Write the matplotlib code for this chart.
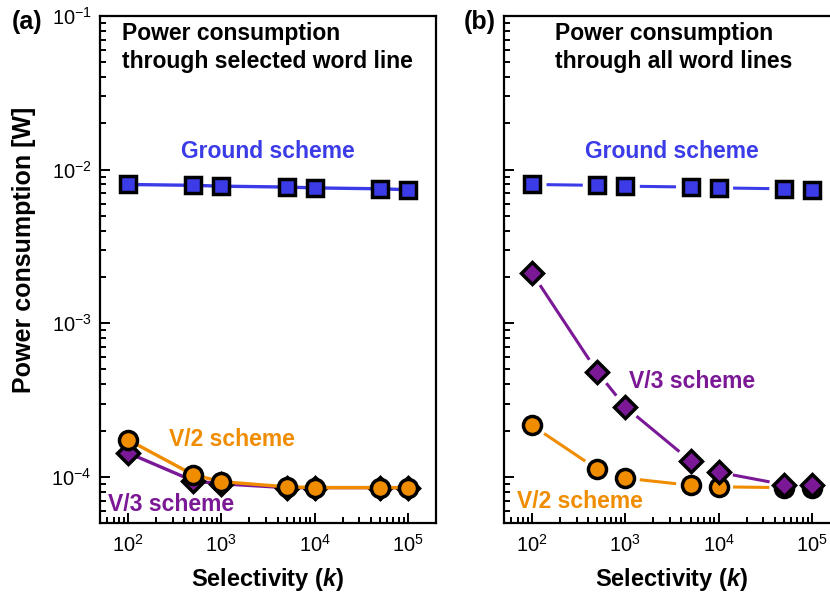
import numpy as np
import matplotlib
matplotlib.use('Agg')
import matplotlib.pyplot as plt
from matplotlib.ticker import LogLocator, LogFormatterMathtext, NullFormatter

plt.rcParams['font.family'] = ['Liberation Sans', 'DejaVu Sans']
plt.rcParams['mathtext.fontset'] = 'custom'
plt.rcParams['mathtext.rm'] = 'Liberation Sans'
plt.rcParams['mathtext.it'] = 'Liberation Sans:italic'
plt.rcParams['mathtext.bf'] = 'Liberation Sans:bold'
plt.rcParams['mathtext.bfit'] = 'Liberation Sans:bold:italic'

# selectivity k
k = [1e2, 5e2, 1e3, 5e3, 1e4, 5e4, 1e5]

# (a) power through selected word line [W]
ground_a = [8.0e-3, 7.9e-3, 7.8e-3, 7.7e-3, 7.6e-3, 7.5e-3, 7.4e-3]
v2_a = [1.74e-4, 1.03e-4, 9.3e-5, 8.6e-5, 8.5e-5, 8.5e-5, 8.5e-5]
v3_a = [1.43e-4, 9.4e-5, 9.0e-5, 8.5e-5, 8.5e-5, 8.5e-5, 8.5e-5]

# (b) power through all word lines [W]
ground_b = [8.0e-3, 7.9e-3, 7.8e-3, 7.7e-3, 7.6e-3, 7.5e-3, 7.4e-3]
v2_b = [2.16e-4, 1.12e-4, 9.8e-5, 8.8e-5, 8.6e-5, 8.5e-5, 8.5e-5]
v3_b = [2.12e-3, 4.82e-4, 2.85e-4, 1.27e-4, 1.07e-4, 8.9e-5, 8.8e-5]

BLUE = '#3b3be8'
PURPLE = '#7a1896'
ORANGE = '#f08c00'

fig = plt.figure(figsize=(8.3, 6.02), dpi=100)
ax_a = fig.add_axes([0.1205, 0.1312, 0.4048, 0.8422])
ax_b = fig.add_axes([0.6072, 0.1312, 0.4048, 0.8422])


def style_axis(ax, show_ylabels):
    ax.set_xscale('log')
    ax.set_yscale('log')
    ax.set_xlim(50, 2e5)
    ax.set_ylim(5e-5, 1e-1)
    for s in ax.spines.values():
        s.set_linewidth(1.6)
    ax.xaxis.set_major_locator(LogLocator(base=10, numticks=10))
    ax.xaxis.set_minor_locator(LogLocator(base=10, subs=np.arange(2, 10), numticks=10))
    ax.yaxis.set_major_locator(LogLocator(base=10, numticks=10))
    ax.yaxis.set_minor_locator(LogLocator(base=10, subs=np.arange(2, 10), numticks=10))
    ax.xaxis.set_major_formatter(LogFormatterMathtext())
    ax.xaxis.set_minor_formatter(NullFormatter())
    ax.yaxis.set_minor_formatter(NullFormatter())
    if show_ylabels:
        ax.yaxis.set_major_formatter(LogFormatterMathtext())
    else:
        ax.yaxis.set_major_formatter(NullFormatter())
    ax.tick_params(which='both', direction='in', top=False, right=False,
                   width=1.4, labelsize=14.5)
    ax.tick_params(which='major', length=7)
    ax.tick_params(which='minor', length=4)
    ax.tick_params(axis='x', which='major', pad=8)
    ax.tick_params(axis='y', which='major', pad=6)
    ax.set_xlabel(r'Selectivity ($\mathbfit{k}$)', fontsize=17, fontweight='bold', labelpad=7)


def gapped_line(ax, x, y, gap, **kw):
    # draw segments between points, leaving a gap around each marker
    pts = ax.transData.transform(np.column_stack([x, y]))
    inv = ax.transData.inverted()
    for p0, p1 in zip(pts[:-1], pts[1:]):
        d = p1 - p0
        L = np.hypot(*d)
        if L <= 2 * gap:
            continue
        u = d / L
        seg = inv.transform(np.array([p0 + u * gap, p1 - u * gap]))
        ax.plot(seg[:, 0], seg[:, 1], **kw)


style_axis(ax_a, True)
style_axis(ax_b, False)

mk = dict(markeredgecolor='black', markeredgewidth=2.5, linestyle='none')

# panel (a)
ax_a.plot(k, ground_a, color=BLUE, lw=2.4, zorder=2)
ax_a.plot(k, ground_a, marker='s', markersize=11.5, markerfacecolor=BLUE, zorder=3, **mk)
ax_a.plot(k, v3_a, color=PURPLE, lw=2.4, zorder=2)
ax_a.plot(k, v3_a, marker='D', markersize=11.5, markerfacecolor=PURPLE, zorder=3, **mk)
ax_a.plot(k, v2_a, color=ORANGE, lw=2.4, zorder=4)
ax_a.plot(k, v2_a, marker='o', markersize=13, markerfacecolor=ORANGE, zorder=5, **mk)

# panel (b) with gaps around markers
gapped_line(ax_b, k, ground_b, 16, color=BLUE, lw=2.2, zorder=2)
ax_b.plot(k, ground_b, marker='s', markersize=11.5, markerfacecolor=BLUE, zorder=3, **mk)
gapped_line(ax_b, k, v2_b, 16, color=ORANGE, lw=2.2, zorder=2)
ax_b.plot(k, v2_b, marker='o', markersize=13, markerfacecolor=ORANGE, zorder=3, **mk)
gapped_line(ax_b, k, v3_b, 16, color=PURPLE, lw=2.2, zorder=4)
ax_b.plot(k, v3_b, marker='D', markersize=11.5, markerfacecolor=PURPLE, zorder=5, **mk)

tkw = dict(fontsize=16.5, fontweight='bold')
ax_a.text(0.065, 0.988, 'Power consumption\nthrough selected word line', transform=ax_a.transAxes,
          ha='left', va='top', linespacing=1.3, **tkw)
ax_b.text(0.152, 0.988, 'Power consumption\nthrough all word lines', transform=ax_b.transAxes,
          ha='left', va='top', linespacing=1.3, **tkw)

ax_a.text(0.5, 0.732, 'Ground scheme', color=BLUE, transform=ax_a.transAxes, ha='center', va='center', **tkw)
ax_a.text(0.393, 0.164, 'V/2 scheme', color=ORANGE, transform=ax_a.transAxes, ha='center', va='center', **tkw)
ax_a.text(0.212, 0.0375, 'V/3 scheme', color=PURPLE, transform=ax_a.transAxes, ha='center', va='center', **tkw)

ax_b.text(0.5, 0.732, 'Ground scheme', color=BLUE, transform=ax_b.transAxes, ha='center', va='center', **tkw)
ax_b.text(0.56, 0.28, 'V/3 scheme', color=PURPLE, transform=ax_b.transAxes, ha='center', va='center', **tkw)
ax_b.text(0.226, 0.043, 'V/2 scheme', color=ORANGE, transform=ax_b.transAxes, ha='center', va='center', **tkw)

fig.text(27 / 830, 1 - 22 / 602, '(a)', fontsize=18, fontweight='bold', ha='center', va='center')
fig.text(480 / 830, 1 - 22 / 602, '(b)', fontsize=18, fontweight='bold', ha='center', va='center')
fig.text(24 / 830, 1 - 250 / 602, 'Power consumption [W]', fontsize=18, fontweight='bold',
         rotation=90, ha='center', va='center')

fig.savefig('out.png', dpi=100)
